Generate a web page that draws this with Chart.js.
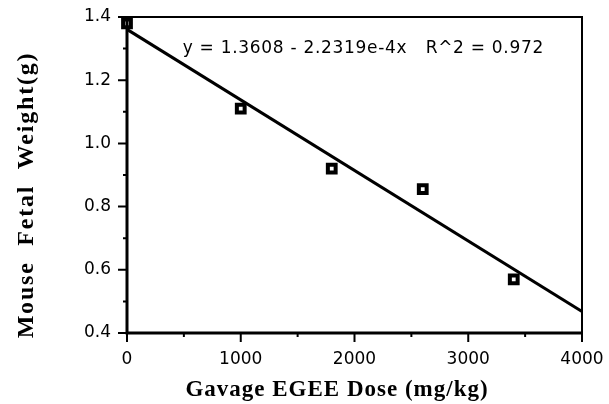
<!DOCTYPE html>
<html>
<head>
<meta charset="utf-8">
<script src="https://cdn.jsdelivr.net/npm/chart.js@4"></script>
<style>
  html, body { margin: 0; padding: 0; background: #fff; }
  #wrap { width: 609px; height: 404px; }
</style>
</head>
<body>
<div id="wrap"><canvas id="chart" width="609" height="404"></canvas></div>
<script>
// measured points (dose mg/kg, fetal weight g)
const doses = [0, 1000, 1800, 2600, 3400];
const weights = [1.38, 1.11, 0.92, 0.855, 0.57];

// fitted line end points
const fitX = [0, 4000];
const fitY = [1.3608, 0.468];

const equationText = 'y = 1.3608 - 2.2319e-4x   R^2 = 0.972';
const xTitle = 'Gavage EGEE Dose (mg/kg)';
const yTitle = 'Mouse  Fetal  Weight(g)';

const tickFont = { family: 'DejaVu Sans', size: 17 };

// box, outward ticks (long at labels, short between), titles and the equation
const frameAndTicks = {
  id: 'frameAndTicks',
  afterDraw(chart) {
    const ctx = chart.ctx;
    const a = chart.chartArea;
    const xs = chart.scales.x, ys = chart.scales.y;
    ctx.save();
    ctx.strokeStyle = '#000';
    ctx.lineWidth = 2;
    ctx.beginPath();
    ctx.moveTo(a.left, a.top); ctx.lineTo(a.right, a.top);
    ctx.lineTo(a.right, a.bottom);
    ctx.stroke();
    ctx.lineWidth = 3;
    ctx.beginPath();
    ctx.moveTo(a.left, a.top - 1); ctx.lineTo(a.left, a.bottom);
    ctx.lineTo(a.right + 1, a.bottom);
    ctx.stroke();
    ctx.lineWidth = 2;
    ctx.beginPath();
    for (let v = 0; v <= 4000; v += 500) {
      const px = xs.getPixelForValue(v);
      const len = v % 1000 === 0 ? 9 : 4;
      ctx.moveTo(px, a.bottom); ctx.lineTo(px, a.bottom + len);
    }
    for (let i = 4; i <= 14; i++) {
      const py = ys.getPixelForValue(i / 10);
      const len = i % 2 === 0 ? 9 : 4;
      ctx.moveTo(a.left, py); ctx.lineTo(a.left - len, py);
    }
    ctx.stroke();

    ctx.fillStyle = '#000';
    ctx.textBaseline = 'middle';
    ctx.textAlign = 'left';
    ctx.font = '17px "DejaVu Sans"';
    ctx.letterSpacing = '0.7px';
    ctx.fillText(equationText, xs.getPixelForValue(490), ys.getPixelForValue(1.3));

    ctx.textAlign = 'center';
    ctx.font = 'bold 23px "Liberation Serif"';
    ctx.letterSpacing = '1px';
    ctx.fillText(xTitle, 337, 390);

    ctx.translate(27, 195);
    ctx.rotate(-Math.PI / 2);
    ctx.font = 'bold 24px "Liberation Serif"';
    ctx.letterSpacing = '1.8px';
    ctx.fillText(yTitle, 0, 0);
    ctx.restore();
  }
};

new Chart(document.getElementById('chart'), {
  type: 'scatter',
  data: {
    datasets: [
      {
        label: 'fit',
        type: 'line',
        data: fitX.map((x, i) => ({ x: x, y: fitY[i] })),
        borderColor: '#000',
        borderWidth: 3,
        pointRadius: 0,
        fill: false
      },
      {
        label: 'weight',
        data: doses.map((x, i) => ({ x: x, y: weights[i] })),
        pointStyle: 'rect',
        pointRadius: 5.5,
        backgroundColor: '#fff',
        borderColor: '#000',
        borderWidth: 4,
        clip: false
      }
    ]
  },
  options: {
    responsive: false,
    animation: false,
    layout: { padding: { top: 17, right: 27, left: 0, bottom: 0 } },
    plugins: { legend: { display: false }, tooltip: { enabled: false } },
    scales: {
      x: {
        type: 'linear',
        min: 0, max: 4000,
        afterFit(scale) {
          scale.height = 71;
          scale.paddingLeft = 0; scale.paddingRight = 0;
        },
        border: { display: false },
        grid: { display: false, drawTicks: false },
        ticks: {
          stepSize: 1000, padding: 16, color: '#000', font: tickFont, maxRotation: 0,
          callback: v => String(v)
        }
      },
      y: {
        type: 'linear',
        min: 0.4, max: 1.4,
        afterFit(scale) {
          scale.width = 127;
          scale.paddingTop = 0; scale.paddingBottom = 0;
        },
        border: { display: false },
        grid: { display: false, drawTicks: false },
        ticks: {
          stepSize: 0.2, padding: 16, color: '#000', font: tickFont,
          callback: v => v.toFixed(1)
        }
      }
    }
  },
  plugins: [frameAndTicks]
});
</script>
</body>
</html>
